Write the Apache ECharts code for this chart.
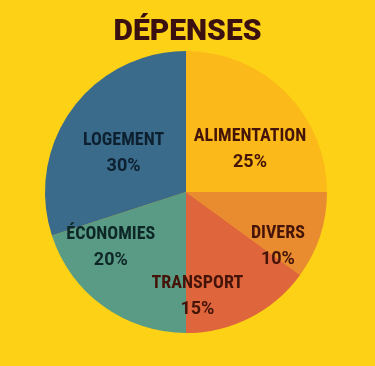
<!DOCTYPE html>
<html>
<head>
<meta charset="utf-8">
<script src="https://cdn.jsdelivr.net/npm/echarts@6/dist/echarts.min.js"></script>
<style>html,body{margin:0;padding:0;background:#FDD116;}#c{width:375px;height:366px;}</style>
</head>
<body>
<div id="c"></div>
<script>
const categories = ['ALIMENTATION', 'DIVERS', 'TRANSPORT', 'ÉCONOMIES', 'LOGEMENT'];
const values = [25, 10, 15, 20, 30];
const colors = ['#FBB91A', '#E98B2F', '#DF653C', '#5A9B85', '#3B6B8B'];
const labelColors = ['#451408', '#451408', '#451408', '#0d2626', '#0d2030'];
// label nudges (layout only)
const labelOffsets = [[12, 9], [22, 32], [-22, 39], [-32, -4], [-3, 5]];

const chart = echarts.init(document.getElementById('c'), null, {renderer: 'canvas'});
chart.setOption({
  backgroundColor: '#FDD116',
  animation: false,
  title: {
    text: 'DÉPENSES',
    left: 'center',
    top: 12,
    textStyle: {fontFamily: 'Roboto', fontWeight: 900, fontSize: 30, color: '#3a1010'}
  },
  series: [{
    type: 'pie',
    center: [186, 192],
    radius: 141,
    startAngle: 90,
    clockwise: true,
    avoidLabelOverlap: false,
    labelLayout: {hideOverlap: false},
    data: categories.map((n, i) => ({
      name: n, value: values[i],
      itemStyle: {color: colors[i]},
      label: {color: labelColors[i], offset: labelOffsets[i]}
    })),
    label: {
      show: true,
      position: 'inside',
      formatter: p => '{n|' + p.name + '}\n{p|' + p.value + '%}',
      align: 'center',
      rich: {
        n: {fontFamily: "'Liberation Sans Narrow', 'Roboto Condensed', Roboto", fontWeight: 'bold', fontSize: 18, lineHeight: 26},
        p: {fontFamily: 'Roboto', fontWeight: 'bold', fontSize: 18, lineHeight: 26}
      }
    },
    labelLine: {show: false},
    itemStyle: {borderWidth: 0}
  }]
});
</script>
</body>
</html>
